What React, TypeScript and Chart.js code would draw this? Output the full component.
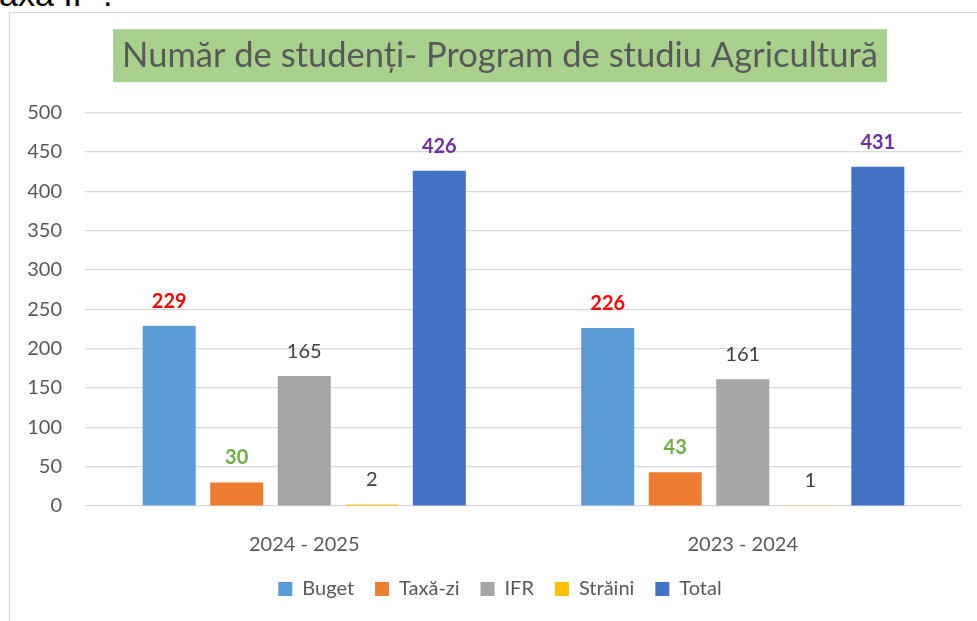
import React, { useEffect, useRef } from "react";
import { Chart, registerables } from "chart.js";

Chart.register(...registerables);

const categories = ["2024 - 2025", "2023 - 2024"];
const seriesNames = ["Buget", "Taxă-zi", "IFR", "Străini", "Total"];
const bugetValues = [229, 226];
const taxaZiValues = [30, 43];
const ifrValues = [165, 161];
const strainiValues = [2, 1];
const totalValues = [426, 431];
const yTicks = [0, 50, 100, 150, 200, 250, 300, 350, 400, 450, 500];

const seriesColors = ["#5B9BD5", "#ED7D31", "#A5A5A5", "#FFC000", "#4472C4"];
const labelColors = ["#FF0000", "#70AD47", "#404040", "#404040", "#7030A0"];
const labelBold = [true, true, false, false, true];

const titleText = "Număr de studenți- Program de studiu Agricultură";
const FONT = "Lato";
const TITLE_SIZE = 34.5;
const TITLE_LH = 1.2;
const TITLE_PAD_TOP = 22;

const titleBgPlugin = {
  id: "titleBg",
  beforeDraw(chart: any) {
    const ctx = chart.ctx;
    const tb = chart.titleBlock;
    if (!tb) return;
    ctx.save();
    ctx.font = `${TITLE_SIZE}px ${FONT}`;
    const w = ctx.measureText(titleText).width;
    const cx = (tb.left + tb.right) / 2;
    const cy = tb.top + TITLE_PAD_TOP + (TITLE_SIZE * TITLE_LH) / 2;
    ctx.fillStyle = "#A9D18E";
    ctx.fillRect(cx - w / 2 - 9, cy - 26.5, w + 18, 53);
    ctx.restore();
  },
};

const valueLabelPlugin = {
  id: "valueLabels",
  afterDatasetsDraw(chart: any) {
    const ctx = chart.ctx;
    chart.data.datasets.forEach((ds: any, i: number) => {
      const meta = chart.getDatasetMeta(i);
      meta.data.forEach((bar: any, j: number) => {
        ctx.save();
        ctx.font = `${labelBold[i] ? "bold " : ""}20px ${FONT}`;
        ctx.fillStyle = labelColors[i];
        ctx.textAlign = "center";
        ctx.textBaseline = "alphabetic";
        ctx.fillText(String(ds.data[j]), bar.x, bar.y - 18);
        ctx.restore();
      });
    });
  },
};

export default function App() {
  const canvasRef = useRef<HTMLCanvasElement | null>(null);

  useEffect(() => {
    if (!canvasRef.current) return;
    const allValues = [bugetValues, taxaZiValues, ifrValues, strainiValues, totalValues];
    const chart = new Chart(canvasRef.current, {
      type: "bar",
      data: {
        labels: categories,
        datasets: seriesNames.map((name, i) => ({
          label: name,
          data: allValues[i],
          backgroundColor: seriesColors[i],
          borderWidth: 0,
          categoryPercentage: 0.77,
          barPercentage: 0.785,
        })),
      },
      options: {
        animation: false,
        responsive: false,
        devicePixelRatio: 1,
        layout: { padding: { left: 17, right: 10, top: 0, bottom: 12 } },
        plugins: {
          title: {
            display: true,
            text: titleText,
            color: "#595959",
            font: { family: FONT, size: TITLE_SIZE, weight: "normal", lineHeight: TITLE_LH },
            padding: { top: TITLE_PAD_TOP, bottom: 36 },
          },
          legend: {
            display: true,
            position: "bottom",
            labels: {
              color: "#595959",
              font: { family: FONT, size: 20 },
              boxWidth: 14,
              boxHeight: 14,
              padding: 21,
            },
          },
          tooltip: { enabled: false },
        },
        scales: {
          x: {
            grid: { display: false },
            border: { display: false },
            ticks: {
              color: "#595959",
              font: { family: FONT, size: 20 },
              padding: 19,
            },
            afterFit: (scale: any) => {
              scale.height = 52;
            },
          },
          y: {
            min: 0,
            max: 500,
            afterBuildTicks: (scale: any) => {
              scale.ticks = yTicks.map((v) => ({ value: v }));
            },
            afterFit: (scale: any) => {
              scale.width = 58;
            },
            grid: { color: "#D9D9D9", lineWidth: 1.2, drawTicks: false },
            border: { display: false },
            ticks: {
              color: "#595959",
              font: { family: FONT, size: 20 },
              padding: 23,
            },
          },
          yRightSpace: {
            type: "linear",
            position: "right",
            display: true,
            grid: { display: false, drawTicks: false },
            border: { display: false },
            ticks: { display: false },
            afterFit: (scale: any) => {
              scale.width = 11;
            },
          },
        },
      },
      plugins: [titleBgPlugin, valueLabelPlugin],
    } as any);
    return () => chart.destroy();
  }, []);

  return (
    <div
      style={{
        position: "fixed",
        left: 0,
        top: 0,
        width: 977,
        height: 621,
        overflow: "hidden",
        background: "#ffffff",
      }}
    >
      <span
        style={{
          position: "absolute",
          left: -1,
          top: -23,
          fontFamily: "'Liberation Sans', Arial, sans-serif",
          fontSize: 34,
          lineHeight: "34px",
          color: "#000000",
          whiteSpace: "nowrap",
        }}
      >
        axa IF .
      </span>
      <div
        style={{
          position: "absolute",
          left: 9,
          top: 12,
          width: 980,
          height: 620,
          borderLeft: "1px solid #D9D9D9",
          borderTop: "1px solid #D9D9D9",
        }}
      >
        <canvas
          ref={canvasRef}
          width={973}
          height={608}
          style={{ display: "block", width: 973, height: 608 }}
        />
      </div>
    </div>
  );
}
